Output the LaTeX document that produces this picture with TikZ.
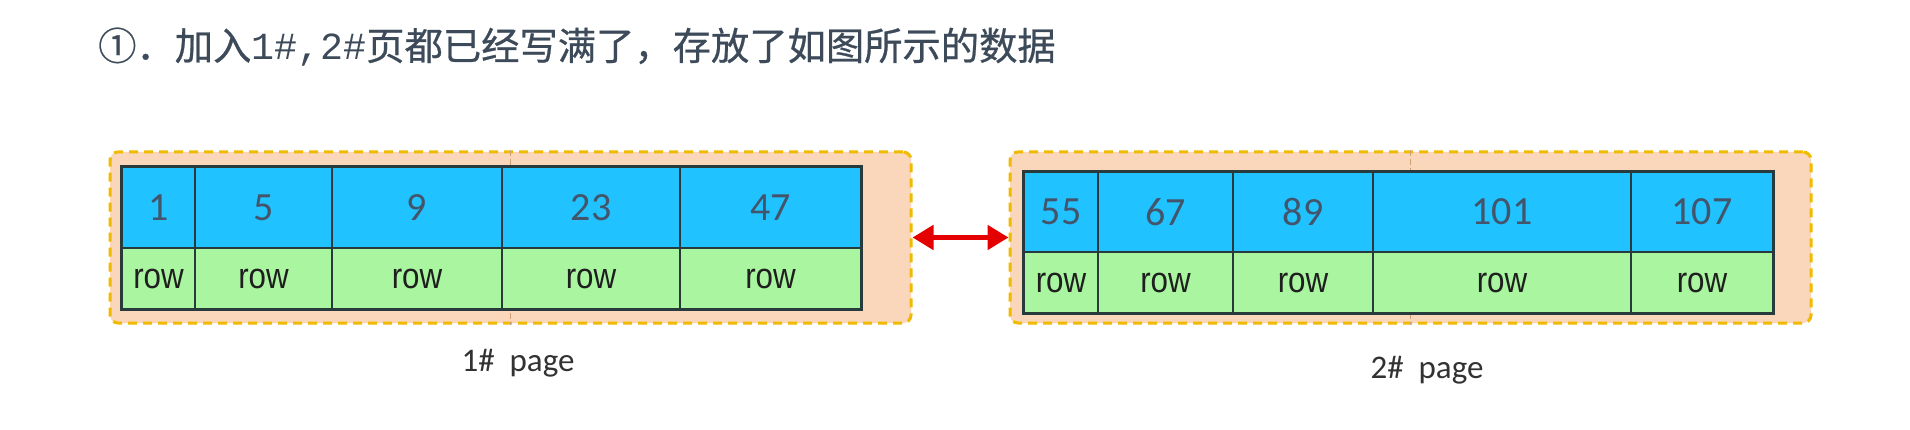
\documentclass[tikz,border=0pt]{standalone}
\usepackage{fontspec}
\setmainfont{Carlito}
\newfontfamily\cjk[FakeBold=0.6]{Noto Sans CJK SC}
\newfontfamily\monof{Liberation Mono}
\newfontfamily\rowf[FakeStretch=0.87]{Liberation Sans}
\usetikzlibrary{arrows.meta}
\definecolor{titlec}{RGB}{60,74,90}
\definecolor{keyblue}{RGB}{32,194,255}
\definecolor{rowgreen}{RGB}{170,245,160}
\definecolor{numc}{RGB}{68,84,106}
\definecolor{cellline}{RGB}{40,58,60}
\definecolor{peach}{RGB}{250,214,186}
\definecolor{gold}{RGB}{240,186,0}
\definecolor{guidec}{RGB}{205,160,120}
\definecolor{arrowred}{RGB}{228,0,0}
\definecolor{labelc}{RGB}{50,50,50}
\tikzset{
  pagebox/.style={draw=gold, fill=peach, line width=3pt, dash pattern=on 9pt off 6pt,
    rounded corners=8pt, inner sep=0pt, minimum width=801pt, minimum height=171pt},
  guide/.style={draw=guidec, line width=0.7pt, dash pattern=on 6pt off 3pt},
  keycell/.style={draw=cellline, fill=keyblue, line width=1.4pt, inner sep=0pt,
    text=numc, font=\fontsize{40}{42}\selectfont},
  rowcell/.style={draw=cellline, fill=rowgreen, line width=1.4pt, inner sep=0pt,
    text=black!88, font=\rowf\fontsize{36}{38}\selectfont},
  tableframe/.style={draw=cellline, line width=2pt},
  linkarrow/.style={draw=arrowred, line width=5pt,
    {Triangle[length=21pt,width=24pt]}-{Triangle[length=21pt,width=24pt]}},
  pagelabel/.style={text=labelc, font=\fontsize{33}{36}\selectfont, inner sep=0pt}
}
\begin{document}
\begin{tikzpicture}[x=1pt,y=-1pt]
\useasboundingbox (0,0) rectangle (1910,430);
\fill[white] (0,0) rectangle (1910,430);

% title
\node[anchor=base west, inner sep=0pt, text=titlec,
  font=\cjk\fontsize{38.3}{40}\selectfont] (title) at (98,60)
  {①．加入{\monof 1\#,2\#}页都已经写满了，存放了如图所示的数据};

% page boxes
\node[pagebox] (box1) at (510.5,237.5) {};
\node[pagebox] (box2) at (1410.5,237.5) {};
\draw[guide] (box1.north) -- (box1.south);
\draw[guide] (box2.north) -- (box2.south);

% table 1
\foreach \a/\b/\t [count=\i] in {122/195/1,195/332/5,332/502/9,502/680/23,680/861/47}{
  \pgfmathsetmacro\w{\b-\a}
  \pgfmathsetmacro\c{(\a+\b)/2}
  \node[keycell, minimum width=\w pt, minimum height=81pt] (ka\i) at (\c,207.5) {\t};
  \node[rowcell, minimum width=\w pt, minimum height=61pt] (ra\i) at (\c,278.5) {row};
}
\draw[tableframe] (ka1.north west) rectangle (ra5.south east);

% table 2
\foreach \a/\b/\t [count=\i] in {1024/1098/55,1098/1233/67,1233/1373/89,1373/1631/101,1631/1773/107}{
  \pgfmathsetmacro\w{\b-\a}
  \pgfmathsetmacro\c{(\a+\b)/2}
  \node[keycell, minimum width=\w pt, minimum height=80pt] (kb\i) at (\c,212) {\t};
  \node[rowcell, minimum width=\w pt, minimum height=61pt] (rb\i) at (\c,282.5) {row};
}
\draw[tableframe] (kb1.north west) rectangle (rb5.south east);

% link
\draw[linkarrow] (box1.east) -- (box2.west);

% labels
\node[pagelabel] (lab1) at (518,363) {1\#\ \ page};
\node[pagelabel] (lab2) at (1427,370) {2\#\ \ page};
\end{tikzpicture}
\end{document}
